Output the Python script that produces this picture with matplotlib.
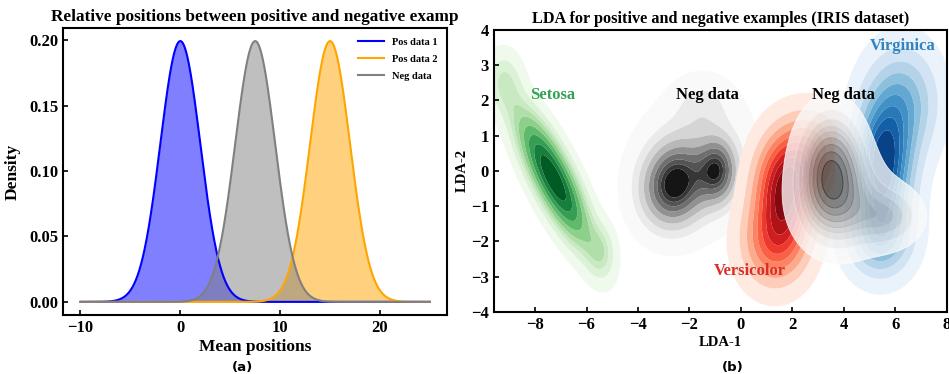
import numpy as np
import matplotlib
matplotlib.use("Agg")
import matplotlib.pyplot as plt
from matplotlib.colors import ListedColormap

plt.rcParams['font.family'] = ['Liberation Serif', 'DejaVu Serif']
plt.rcParams['font.weight'] = 'bold'
plt.rcParams['axes.labelweight'] = 'bold'
plt.rcParams['axes.titleweight'] = 'bold'

#### panel (a): three normal curves
curve_names = ["Pos data 1", "Pos data 2", "Neg data"]
curve_means = [0.0, 15.0, 7.5]
curve_std = 2.0
curve_colors = ["blue", "orange", "gray"]
x_range = (-10, 25)

#### panel (b): LDA density blobs, each a list of gaussian bumps
## (cx, cy, sx, sy, rho, weight)
setosa = [(-7.3, -0.2, 1.0, 1.3, -0.8, 0.88),
          (-9.2, 2.6, 0.5, 0.6, 0.0, 0.07),
          (-5.4, -2.3, 0.4, 0.55, 0.0, 0.05)]
neg1 = [(-2.6, -0.4, 0.8, 0.75, 0.1, 0.45),
        (-0.9, 0.0, 0.5, 0.6, 0.0, 0.18),
        (-1.8, 0.2, 1.4, 1.2, 0.1, 0.33),
        (-1.5, 1.9, 0.7, 0.5, 0.0, 0.04)]
versicolor = [(1.7, -0.5, 0.8, 1.0, 0.0, 0.50),
              (1.3, -2.1, 0.9, 0.85, 0.0, 0.28),
              (2.8, 0.6, 0.9, 0.8, 0.0, 0.22)]
virginica = [(5.5, 0.1, 0.8, 1.2, 0.0, 0.50),
             (6.3, 2.0, 1.0, 1.1, 0.0, 0.30),
             (5.4, -1.9, 0.9, 0.8, 0.0, 0.20)]
neg2 = [(3.5, 0.0, 0.75, 0.95, 0.0, 0.60),
        (4.0, -1.0, 1.1, 0.8, 0.0, 0.28),
        (5.7, -1.3, 0.8, 0.5, 0.0, 0.12)]
blob_sets = [setosa, neg1, versicolor, virginica, neg2]
blob_cmaps = ["Greens", "Greys", "Reds", "Blues", "Greys_part"]
blob_alpha = [1.0, 1.0, 1.0, 1.0, 0.78]

labels = ["Setosa", "Neg data", "Versicolor", "Virginica", "Neg data"]
label_x = [-7.3, -1.3, 0.35, 6.3, 4.0]
label_y = [2.15, 2.15, -2.85, 3.55, 2.15]
label_colors = ["#31a354", "black", "#de2d26", "#3182bd", "black"]


def density(parts, X, Y):
    Z = np.zeros_like(X)
    for cx, cy, sx, sy, rho, w in parts:
        dx = (X - cx) / sx
        dy = (Y - cy) / sy
        q = (dx**2 - 2*rho*dx*dy + dy**2) / (1 - rho**2)
        Z += w * np.exp(-0.5*q) / (2*np.pi*sx*sy*np.sqrt(1 - rho**2))
    return Z


def iso_levels(Z, nlev=10, thresh=0.05):
    ## seaborn style iso-proportion levels
    vals = np.sort(Z.ravel())[::-1]
    cum = np.cumsum(vals)
    cum = cum / cum[-1]
    props = np.linspace(thresh, 1, nlev)
    lev = [vals[min(np.searchsorted(cum, 1 - p), len(vals) - 1)] for p in props]
    lev = sorted(set(lev))
    return lev + [Z.max() * 1.01]


greys_part = ListedColormap(plt.get_cmap("Greys")(np.linspace(0.0, 0.85, 256)))

fig = plt.figure(figsize=(9.49, 3.74), dpi=100)

## left panel
ax1 = fig.add_axes([0.0664, 0.158, 0.405, 0.767])
xs = np.linspace(x_range[0], x_range[1], 1000)
for name, m, c in zip(curve_names, curve_means, curve_colors):
    ys = np.exp(-0.5*((xs - m)/curve_std)**2) / (curve_std*np.sqrt(2*np.pi))
    ax1.plot(xs, ys, color=c, lw=1.5, label=name)
    ax1.fill_between(xs, ys, color=c, alpha=0.5, lw=0)
ax1.set_title("Relative positions between positive and negative examp", fontsize=12.4, pad=5)
ax1.set_xlabel("Mean positions", fontsize=12.5, labelpad=2)
ax1.set_ylabel("Density", fontsize=12.5, labelpad=6)
ax1.set_xticks([-10, 0, 10, 20])
ax1.set_yticks([0.0, 0.05, 0.10, 0.15, 0.20])
ax1.tick_params(direction='in', labelsize=12, width=1.2)
ax1.legend(loc='upper right', frameon=False, fontsize=7.5, handlelength=2.5,
           labelspacing=0.75)
for s in ax1.spines.values():
    s.set_linewidth(1.5)

## right panel
ax2 = fig.add_axes([0.5205, 0.166, 0.477, 0.754])
gx = np.linspace(-10, 8.5, 400)
gy = np.linspace(-4.5, 4.5, 300)
X, Y = np.meshgrid(gx, gy)
for parts, cmap, a in zip(blob_sets, blob_cmaps, blob_alpha):
    Z = density(parts, X, Y)
    lev = iso_levels(Z)
    if cmap == "Greys_part":
        ax2.contourf(X, Y, Z, levels=lev, cmap=greys_part, alpha=a, antialiased=True)
        ax2.contour(X, Y, Z, levels=lev[:-1], cmap="Greys", linewidths=0.6, alpha=0.8)
    else:
        ax2.contourf(X, Y, Z, levels=lev, cmap=cmap, alpha=a, antialiased=True)
for t, x, y, c in zip(labels, label_x, label_y, label_colors):
    ax2.text(x, y, t, color=c, fontsize=12, ha='center', va='center', fontweight='bold')
ax2.set_xlim(-9.6, 8)
ax2.set_ylim(-4, 4)
ax2.set_xticks(np.arange(-8, 9, 2))
ax2.set_yticks(np.arange(-4, 5, 1))
ax2.set_title("LDA for positive and negative examples (IRIS dataset)", fontsize=11.7, pad=5)
ax2.set_xlabel("LDA-1", fontsize=10.5, labelpad=2)
ax2.set_ylabel("LDA-2", fontsize=10.5, labelpad=2)
ax2.tick_params(direction='in', labelsize=12, width=1.2)
for s in ax2.spines.values():
    s.set_linewidth(1.5)

fig.text(0.256, 0.008, "(a)", family='DejaVu Sans', fontweight='bold', fontsize=9.5, ha='center')
fig.text(0.772, 0.008, "(b)", family='DejaVu Sans', fontweight='bold', fontsize=9.5, ha='center')

fig.savefig("out.png", dpi=100)
